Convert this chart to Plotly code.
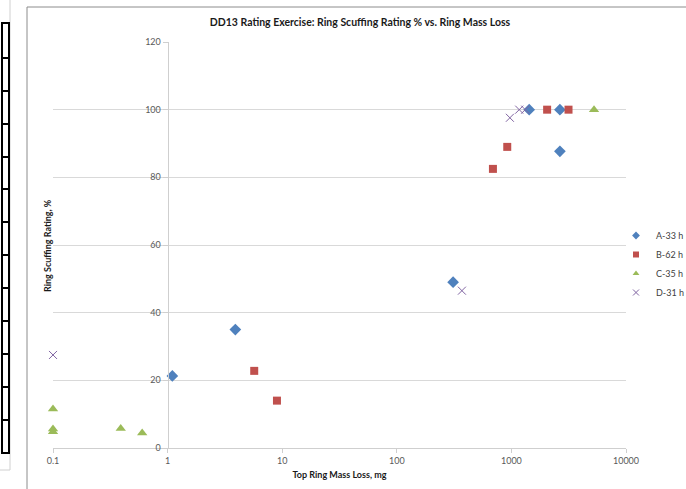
import plotly.graph_objects as go

# Series data: top ring mass loss (mg) vs ring scuffing rating (%)
a_mass = [1.1, 3.9, 310, 1430, 2650, 2650]
a_rating = [21.3, 35, 49, 100, 100, 87.7]

b_mass = [5.7, 9.0, 690, 920, 2050, 3150]
b_rating = [22.8, 14, 82.5, 89, 100, 100]

c_mass = [0.1, 0.1, 0.1, 0.39, 0.6, 5260]
c_rating = [11.5, 5.6, 4.8, 5.8, 4.4, 100]

d_mass = [0.1, 370, 970, 1170, 1320]
d_rating = [27.5, 46.5, 97.6, 100, 100]

series_names = ["A-33 h", "B-62 h", "C-35 h", "D-31 h"]
y_ticks = [0, 20, 40, 60, 80, 100, 120]
x_ticks = [0.1, 1, 10, 100, 1000, 10000]
x_tick_labels = ["0.1", "1", "10", "100", "1000", "10000"]

W, H = 686, 489
L, R, T, B = 53, 60, 42, 41
PW, PH = W - L - R, H - T - B


def px(x):
    return (x - L) / PW


def py(y):
    return (H - B - y) / PH


FONT = "Lato, Calibri, sans-serif"

styles = [
    dict(symbol="diamond", size=9, color="#4F81BD"),
    dict(symbol="square", size=8, color="#C0504D"),
    dict(symbol="triangle-up", size=9, color="#9BBB59"),
    dict(symbol="x-thin", size=8, line=dict(color="#8064A2", width=1)),
]
legend_styles = [
    dict(symbol="diamond", size=6, color="#4F81BD"),
    dict(symbol="square", size=6, color="#C0504D"),
    dict(symbol="triangle-up", size=6, color="#9BBB59"),
    dict(symbol="x-thin", size=6, line=dict(color="#8064A2", width=1)),
]
series = [(a_mass, a_rating), (b_mass, b_rating), (c_mass, c_rating), (d_mass, d_rating)]

fig = go.Figure()
for (xs, ys), name, st in zip(series, series_names, styles):
    fig.add_trace(go.Scatter(x=xs, y=ys, mode="markers", name=name, legendgroup=name,
                             showlegend=False, cliponaxis=False, marker=st))
# Legend entries drawn with compact symbols
for name, st in zip(series_names, legend_styles):
    fig.add_trace(go.Scatter(x=[None], y=[None], mode="markers", name=name,
                             legendgroup=name, marker=st))


def rect(x0, y0, x1, y1, color, width):
    return dict(type="rect", xref="paper", yref="paper",
                x0=px(x0), x1=px(x1), y0=py(y1), y1=py(y0),
                line=dict(color=color, width=width), fillcolor="rgba(0,0,0,0)")


# Chart frame (runs past the right and bottom edges) and the cell column at the left
shapes = [
    rect(27, 7, W + 10, H + 10, "#8c8c8c", 1),
    rect(-5, -5, 10, 470, "#d0d0d0", 1),
]
rows = [23, 58, 91, 124, 157, 189, 222, 255, 288, 321, 354, 387, 420, 453]
for top, bottom in zip(rows[:-1], rows[1:]):
    shapes.append(rect(2, top, 9, bottom, "#000000", 2))

fig.update_layout(
    width=W, height=H,
    margin=dict(l=L, r=R, t=T, b=B, autoexpand=False),
    paper_bgcolor="white", plot_bgcolor="white",
    font=dict(family=FONT, size=9, color="#595959"),
    title=dict(text="<b>DD13 Rating Exercise: Ring Scuffing Rating % vs. Ring Mass Loss</b>",
               x=px(360), xref="paper", xanchor="center", y=1 - 22 / H, yanchor="middle",
               font=dict(family=FONT, size=10.5, color="#1a1a1a")),
    xaxis=dict(type="log", range=[-1, 4], tickvals=x_ticks, ticktext=x_tick_labels,
               showgrid=False, zeroline=False, showline=True, linecolor="#cfcfcf",
               ticks="outside", ticklen=4, tickcolor="#cfcfcf",
               anchor="y",
               title=dict(text="<b>Top Ring Mass Loss, mg</b>", standoff=6,
                          font=dict(family=FONT, size=9, color="#1a1a1a"))),
    yaxis=dict(range=[0, 120], tickvals=y_ticks, showgrid=True, gridcolor="#d9d9d9",
               zeroline=False, showline=True, linecolor="#cfcfcf",
               ticks="outside", ticklen=5, tickcolor="#cfcfcf",
               anchor="free", position=0.2),
    legend=dict(x=px(616), y=py(221), xanchor="left", yanchor="top",
                font=dict(family=FONT, size=9, color="#404040"),
                tracegroupgap=0, itemwidth=30, bgcolor="rgba(0,0,0,0)"),
    shapes=shapes,
    annotations=[dict(text="<b>Ring Scuffing Rating, %</b>", xref="paper", yref="paper",
                      x=px(47), y=py(246), textangle=-90, showarrow=False,
                      xanchor="center", yanchor="middle",
                      font=dict(family=FONT, size=9, color="#1a1a1a"))],
)

fig.write_html("out.html", config={"displayModeBar": False})
